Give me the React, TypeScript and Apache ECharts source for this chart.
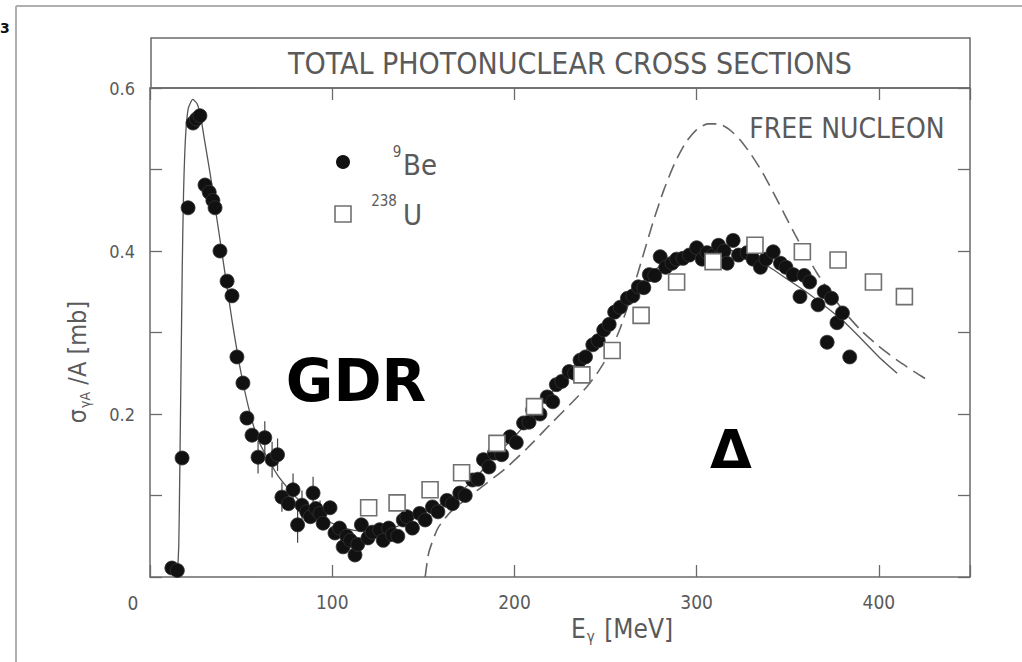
import React, { useEffect, useRef } from "react";
import * as echarts from "echarts";

// Axis ticks
const xMin = 0;
const xMax = 450;
const xInterval = 100;
const yMin = 0;
const yMax = 0.6;
const yInterval = 0.1;
const xLabelValues = [100, 200, 300, 400];
const yLabelValues = [0.2, 0.4, 0.6];

const titleText = "TOTAL PHOTONUCLEAR CROSS SECTIONS";
const beLabel = "Be";
const beMass = "9";
const uLabel = "U";
const uMass = "238";
const freeLabel = "FREE NUCLEON";

// 9Be total photonuclear cross section per nucleon [E (MeV), sigma/A (mb)]
const beData: [number, number][] = [
  [12, 0.011], [15, 0.008], [17.6, 0.146], [20.9, 0.453], [23.6, 0.557], [25.5, 0.562],
  [27.4, 0.566], [30.2, 0.481], [32.5, 0.472], [34.5, 0.462], [35.7, 0.453], [38.4, 0.4],
  [42.3, 0.363], [45, 0.345], [47.7, 0.27], [51, 0.238], [53.2, 0.195], [56, 0.174],
  [59.3, 0.147], [63, 0.171], [67, 0.144], [70, 0.15], [72.4, 0.098], [76, 0.09],
  [78.5, 0.107], [81, 0.064], [83.4, 0.088], [86, 0.08], [88, 0.074], [89.5, 0.103],
  [91, 0.084], [93.3, 0.078], [95, 0.066], [98.8, 0.085], [101.5, 0.054], [104, 0.06],
  [106, 0.037], [108, 0.05], [110, 0.045], [112.5, 0.027], [114, 0.04], [116, 0.064],
  [119.6, 0.048], [122, 0.055], [126, 0.058], [128, 0.045], [131, 0.06], [133, 0.052],
  [136, 0.05], [139, 0.07], [141, 0.074], [144, 0.06], [148, 0.078], [151, 0.07],
  [155, 0.086], [158, 0.08], [163, 0.094], [166, 0.09], [170, 0.103], [173, 0.1],
  [177, 0.119], [180, 0.12], [183, 0.144], [186, 0.135], [189, 0.152], [193, 0.15],
  [197.6, 0.172], [201, 0.165], [205, 0.189], [208, 0.19], [210, 0.205], [214, 0.2],
  [218, 0.221], [221, 0.215], [223, 0.236], [226, 0.24], [230, 0.252], [233, 0.25],
  [236, 0.266], [239, 0.27], [243, 0.285], [246, 0.29], [249, 0.303], [252, 0.31],
  [255, 0.325], [258, 0.331], [262, 0.342], [265, 0.345], [268, 0.356], [271, 0.355],
  [274, 0.371], [277, 0.37], [280, 0.393], [283, 0.38], [286.5, 0.385], [289, 0.39],
  [292.5, 0.391], [296, 0.395], [300, 0.404], [303, 0.39], [305.7, 0.398], [309, 0.395],
  [312, 0.407], [315, 0.4], [316.7, 0.385], [320, 0.413], [323, 0.395], [327.7, 0.398],
  [331, 0.39], [335, 0.38], [338, 0.39], [342, 0.399], [346, 0.385], [349, 0.38],
  [353, 0.371], [356.7, 0.344], [359, 0.37], [362, 0.362], [366.6, 0.334], [370, 0.35],
  [374, 0.342], [371.6, 0.288], [377, 0.312], [380, 0.324], [384, 0.27],
];

// error bars on some 9Be points [E, sigma/A, half-error]
const beErrors: [number, number, number][] = [
  [59.3, 0.147, 0.02], [63, 0.171, 0.02], [67, 0.144, 0.022], [70, 0.15, 0.02],
  [72.4, 0.098, 0.018], [78.5, 0.107, 0.02], [81, 0.064, 0.022], [83.4, 0.088, 0.018],
  [89.5, 0.103, 0.02], [93.3, 0.078, 0.016],
];

// 238U data
const uData: [number, number][] = [
  [120, 0.085], [135.6, 0.091], [153.7, 0.107], [171, 0.128], [190.4, 0.164],
  [211, 0.209], [237, 0.248], [253.6, 0.278], [269.5, 0.321], [289, 0.362],
  [309, 0.387], [332, 0.407], [358, 0.399], [377.6, 0.389], [397, 0.362], [414, 0.344],
];

// Solid fit curve
const fitCurve: [number, number][] = [
  [15, 0], [15.8, 0.04], [16.3, 0.12], [17, 0.25], [17.7, 0.38], [18.4, 0.47],
  [19.5, 0.54], [21, 0.575], [23.5, 0.586], [26, 0.58], [28, 0.562], [30, 0.535],
  [33, 0.495], [37, 0.435], [41, 0.375], [45, 0.315], [50, 0.25], [55, 0.2],
  [60, 0.165], [70, 0.125], [80, 0.098], [90, 0.08], [100, 0.066], [110, 0.058],
  [120, 0.056], [130, 0.058], [140, 0.066], [150, 0.078], [160, 0.09], [170, 0.104],
  [180, 0.125], [190, 0.15], [200, 0.172], [210, 0.198], [220, 0.225], [230, 0.252],
  [240, 0.28], [250, 0.31], [260, 0.338], [270, 0.362], [280, 0.382], [290, 0.395],
  [300, 0.402], [310, 0.404], [320, 0.4], [330, 0.392], [340, 0.38], [350, 0.365],
  [360, 0.35], [370, 0.333], [380, 0.315], [390, 0.293], [400, 0.27], [410, 0.25],
];

// Free nucleon dashed curve
const freeNucleon: [number, number][] = [
  [151, 0], [153, 0.03], [158, 0.06], [165, 0.08], [180, 0.107], [195, 0.133],
  [207, 0.158], [220, 0.188], [232, 0.215], [240, 0.234], [246, 0.252], [252, 0.274],
  [258, 0.305], [264, 0.345], [270, 0.39], [276, 0.435], [282, 0.475], [288, 0.508],
  [294, 0.533], [300, 0.549], [306, 0.556], [312, 0.556], [318, 0.549], [324, 0.536],
  [330, 0.518], [336, 0.497], [342, 0.472], [348, 0.446], [354, 0.42], [360, 0.396],
  [366, 0.373], [372, 0.353], [380, 0.328], [390, 0.303], [400, 0.283], [410, 0.266],
  [420, 0.251], [428, 0.24],
];

const FONT = "'Liberation Sans Narrow', 'DejaVu Sans Condensed', 'Arial Narrow', sans-serif";
const GRAY = "#5a5a5a";
const LINE = "#6a6a6a";

export default function App() {
  const ref = useRef<HTMLDivElement>(null);
  useEffect(() => {
    if (!ref.current) return;
    const chart = echarts.init(ref.current, null, { renderer: "svg" });
    const near = (v: number, list: number[]) => list.some((t) => Math.abs(t - v) < 1e-6);
    const axisLineStyle = { color: LINE, width: 1.5 };
    const tickStyle = { color: LINE, width: 1.3 };
    const option: any = {
      animation: false,
      backgroundColor: "#ffffff",
      grid: { left: 150, right: 52, top: 88, bottom: 85, show: false },
      xAxis: [
        {
          type: "value", min: xMin, max: xMax, interval: xInterval, position: "bottom",
          axisLine: { show: true, onZero: false, lineStyle: axisLineStyle },
          axisTick: { show: true, inside: true, length: 12, lineStyle: tickStyle },
          axisLabel: {
            color: GRAY, fontFamily: FONT, fontSize: 19, margin: 15,
            formatter: (v: number) => (near(v, xLabelValues) ? String(v) : ""),
          },
          splitLine: { show: false },
        },
        {
          type: "value", min: xMin, max: xMax, interval: xInterval, position: "top",
          axisLine: { show: true, onZero: false, lineStyle: axisLineStyle },
          axisTick: { show: true, inside: true, length: 12, lineStyle: tickStyle },
          axisLabel: { show: false },
          splitLine: { show: false },
        },
      ],
      yAxis: [
        {
          type: "value", min: yMin, max: yMax, interval: yInterval, position: "left",
          axisLine: { show: true, onZero: false, lineStyle: axisLineStyle },
          axisTick: { show: true, inside: true, length: 12, lineStyle: tickStyle },
          axisLabel: {
            color: GRAY, fontFamily: FONT, fontSize: 18, margin: 15,
            formatter: (v: number) => (near(v, yLabelValues) ? v.toFixed(1) : ""),
          },
          splitLine: { show: false },
        },
        {
          type: "value", min: yMin, max: yMax, interval: yInterval, position: "right",
          axisLine: { show: true, onZero: false, lineStyle: axisLineStyle },
          axisTick: { show: true, inside: true, length: 12, lineStyle: tickStyle },
          axisLabel: { show: false },
          splitLine: { show: false },
        },
      ],
      series: [
        {
          type: "line", data: fitCurve, showSymbol: false, smooth: 0.2,
          lineStyle: { color: "#555", width: 1.3 }, z: 2,
        },
        {
          type: "line", data: freeNucleon, showSymbol: false, smooth: 0.2,
          lineStyle: { color: "#666", width: 1.6, type: [14, 7] }, z: 2,
        },
        {
          type: "custom", data: beErrors, z: 3,
          encode: { x: 0, y: 1 },
          renderItem: (_p: any, api: any) => {
            const x = api.value(0), y = api.value(1), e = api.value(2);
            const a = api.coord([x, y - e]);
            const b = api.coord([x, y + e]);
            return {
              type: "line",
              shape: { x1: a[0], y1: a[1], x2: b[0], y2: b[1] },
              style: { stroke: "#444", lineWidth: 1.2 },
            };
          },
        },
        {
          type: "scatter", data: beData, symbol: "circle", symbolSize: 14, z: 4,
          itemStyle: { color: "#111111", borderColor: "#333333", borderWidth: 0.8, opacity: 1 },
        },
        {
          type: "scatter", data: uData, symbol: "rect", symbolSize: 16, z: 5,
          itemStyle: { color: "#ffffff", borderColor: "#707070", borderWidth: 1.6, opacity: 1 },
        },
      ],
      graphic: [
        { type: "line", shape: { x1: 16, y1: 6, x2: 1022, y2: 6 }, style: { stroke: "#b0b0b0", lineWidth: 2 } },
        { type: "line", shape: { x1: 16, y1: 6, x2: 16, y2: 662 }, style: { stroke: "#b0b0b0", lineWidth: 2 } },
        { type: "text", x: 0, y: 28, style: { text: "3", fill: "#111", fontSize: 14, fontWeight: "bold", fontFamily: "DejaVu Sans", verticalAlign: "middle" } },
        { type: "rect", shape: { x: 151, y: 38, width: 819, height: 50 }, style: { fill: "none", stroke: LINE, lineWidth: 1.5 } },
        { type: "text", x: 570, y: 63, style: { text: titleText, fill: GRAY, fontSize: 30, fontFamily: FONT, align: "center", verticalAlign: "middle" } },
        { type: "text", x: 133, y: 603, style: { text: "0", fill: GRAY, fontSize: 19, fontFamily: FONT, align: "center", verticalAlign: "middle" } },
        // legend
        { type: "circle", shape: { cx: 343, cy: 162, r: 7 }, style: { fill: "#111" } },
        { type: "text", x: 397, y: 152, style: { text: beMass, fill: GRAY, fontSize: 15, fontFamily: FONT, align: "center", verticalAlign: "middle" } },
        { type: "text", x: 403, y: 165, style: { text: beLabel, fill: GRAY, fontSize: 29, fontFamily: FONT, align: "left", verticalAlign: "middle" } },
        { type: "rect", shape: { x: 335, y: 206, width: 16, height: 16 }, style: { fill: "#fff", stroke: "#707070", lineWidth: 1.6 } },
        { type: "text", x: 384, y: 201, style: { text: uMass, fill: GRAY, fontSize: 15, fontFamily: FONT, align: "center", verticalAlign: "middle" } },
        { type: "text", x: 403, y: 215, style: { text: uLabel, fill: GRAY, fontSize: 29, fontFamily: FONT, align: "left", verticalAlign: "middle" } },
        { type: "text", x: 847, y: 128, style: { text: freeLabel, fill: GRAY, fontSize: 28, fontFamily: FONT, align: "center", verticalAlign: "middle" } },
        { type: "text", x: 356, y: 381, style: { text: "GDR", fill: "#000", fontSize: 58, fontWeight: "bold", fontFamily: "'DejaVu Sans', sans-serif", align: "center", verticalAlign: "middle" } },
        { type: "text", x: 731, y: 449, style: { text: "Δ", fill: "#000", fontSize: 54, fontWeight: "bold", fontFamily: "'DejaVu Sans', sans-serif", align: "center", verticalAlign: "middle" } },
        // axis names
        {
          type: "text", x: 622, y: 629,
          style: {
            text: "{a|E}{b|γ}{a| [MeV]}", align: "center", verticalAlign: "middle",
            rich: {
              a: { fill: GRAY, fontSize: 26, fontFamily: FONT, lineHeight: 30, verticalAlign: "middle" },
              b: { fill: GRAY, fontSize: 15, fontFamily: FONT, lineHeight: 30, verticalAlign: "bottom", padding: [12, 2, 0, 1] },
            },
          },
        },
        {
          type: "text", x: 77, y: 362, rotation: Math.PI / 2,
          style: {
            text: "{a|σ}{b|γA}{a| /A [mb]}", align: "center", verticalAlign: "middle",
            rich: {
              a: { fill: GRAY, fontSize: 25, fontFamily: FONT, lineHeight: 30, verticalAlign: "middle" },
              b: { fill: GRAY, fontSize: 14, fontFamily: FONT, lineHeight: 30, verticalAlign: "bottom", padding: [12, 0, 0, 1] },
            },
          },
        },
      ],
    };
    chart.setOption(option);
    return () => chart.dispose();
  }, []);
  return (
    <div
      ref={ref}
      style={{ position: "fixed", left: 0, top: 0, width: 1022, height: 662, background: "#fff" }}
    />
  );
}
